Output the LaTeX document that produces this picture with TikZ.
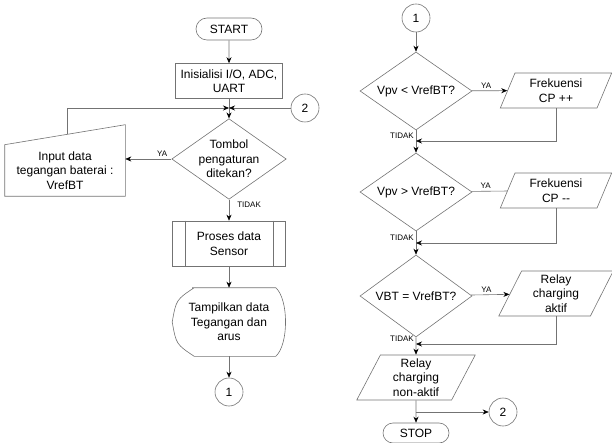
\documentclass[tikz,border=0pt]{standalone}
\usepackage{fontspec}
\setmainfont{Liberation Sans}
\usetikzlibrary{shapes.geometric,shapes.misc,calc,arrows.meta}

\begin{document}
\begin{tikzpicture}[x=1pt,y=-1pt,>={Stealth[length=6pt,width=5pt,color=black]},line width=0.6pt,
  font=\fontsize{12}{14.5}\selectfont,
  every node/.style={align=center,inner sep=0pt},
  garis/.style={draw=black!55},
  terminal/.style={rounded rectangle,garis,minimum width=66pt,minimum height=22pt},
  kotak/.style={rectangle,garis,minimum width=107pt,minimum height=35pt},
  kondisi/.style={diamond,garis,aspect=1.42,minimum width=114pt,minimum height=80pt},
  datain/.style={trapezium,trapezium left angle=68,trapezium right angle=112,
    trapezium stretches=true,garis,minimum width=112pt,minimum height=35pt},
  konektor/.style={circle,garis,minimum size=28pt},
  ket/.style={font=\fontsize{8}{9}\selectfont,inner sep=2pt}]
  \useasboundingbox (0,0) rectangle (612,443);

  % kolom kiri
  \node[terminal] (start) at (229,29) {START};
  \node[kotak] (init) at (229,81) {Inisialisi I/O, ADC,\\UART};
  \coordinate (jn) at (229,108);
  \node[konektor] (ke2a) at (305,108) {2};
  \node[kondisi] (tombol) at (229,159) {Tombol\\pengaturan\\ditekan?};
  \node[minimum width=120pt,minimum height=51pt] (inp) at (65,170.5)
    {Input data\\tegangan baterai :\\VrefBT};
  \node[kotak,minimum width=113pt,minimum height=45pt] (proses) at (229,243.5)
    {Proses data\\Sensor};
  \node[minimum width=113pt,minimum height=68pt] (tampil) at (229,322)
    {Tampilkan data\\Tegangan dan\\arus};
  \node[konektor] (ke1a) at (229,392) {1};

  % bentuk khusus
  \draw[garis] (inp.north west) -- ($(inp.north east)+(0,20pt)$)
    -- (inp.south east) -- (inp.south west) -- cycle;
  \coordinate (inpT) at ($(inp.north west)!0.517!($(inp.north east)+(0,20pt)$)$);
  \draw[garis] ($(proses.north west)+(13pt,0)$) -- ($(proses.south west)+(13pt,0)$);
  \draw[garis] ($(proses.north east)+(-13pt,0)$) -- ($(proses.south east)+(-13pt,0)$);
  \draw[garis] ($(tampil.north west)+(20pt,0)$) -- ($(tampil.north east)+(-10pt,0)$)
    .. controls ($(tampil.north east)+(3pt,-12pt)$) and ($(tampil.south east)+(3pt,12pt)$)
    .. ($(tampil.south east)+(-10pt,0)$) -- ($(tampil.south west)+(22pt,0)$)
    .. controls ($(tampil.south west)+(4pt,12pt)$) .. (tampil.west)
    .. controls ($(tampil.north west)+(4pt,-12pt)$) .. ($(tampil.north west)+(22pt,0)$) -- cycle;

  % kolom kanan
  \node[konektor] (ke1b) at (416,18) {1};
  \node[kondisi,minimum width=112pt,minimum height=78pt] (d1) at (416,91) {Vpv < VrefBT?};
  \node[datain] (p1) at (556,90.5) {Frekuensi\\CP ++};
  \node[kondisi,minimum width=112pt,minimum height=78pt] (d2) at (416,192) {Vpv > VrefBT?};
  \node[datain] (p2) at (556,190.5) {Frekuensi\\CP -{}-};
  \node[kondisi,minimum width=112pt,minimum height=82pt] (d3) at (416,296) {VBT = VrefBT?};
  \node[datain,minimum width=115pt,minimum height=45pt] (p3) at (556,293.5)
    {Relay\\charging\\aktif};
  \node[datain,minimum width=119pt,minimum height=45pt] (p4) at (416,377.5)
    {Relay\\charging\\non-aktif};
  \node[terminal,minimum height=20pt] (stop) at (416,433) {STOP};
  \node[konektor] (ke2b) at (503,412) {2};
  \coordinate (m1) at (416,141);
  \coordinate (m2) at (416,243);
  \coordinate (m3) at (416,344);
  \coordinate (cb) at (416,412);

  % panah kiri
  \draw[garis,->] (start) -- (init);
  \draw[garis,->] (init) -- (tombol);
  \draw[garis,->] (ke2a) -- (jn);
  \draw[garis,->] (inpT) |- (jn);
  \draw[garis,->] (tombol.west) -- node[ket,pos=0.2,above] {YA} (tombol.west -| inp.east);
  \draw[garis,->] (tombol) -- node[ket,pos=0.25,right,xshift=6pt] {TIDAK} (proses);
  \draw[garis,->] (proses) -- (tampil);
  \draw[garis,->] (tampil) -- (ke1a);

  % panah kanan
  \draw[garis,->] (ke1b) -- (d1);
  \draw[garis,->] (d1) -- node[ket,pos=0.4,above] {YA} (p1);
  \draw[garis,->] (d1) -- (d2);
  \draw[garis,->] (p1) |- (m1);
  \draw[garis] (d2) -- node[ket,pos=0.4,above] {YA} (p2);
  \draw[garis,->] (d2) -- (d3);
  \draw[garis,->] (p2) |- (m2);
  \draw[garis,->] (d3) -- node[ket,pos=0.4,above] {YA} (p3);
  \draw[garis,->] (d3) -- (p4);
  \draw[garis,->] (p3) |- (m3);
  \draw[garis,->] (p4) -- (stop);
  \draw[garis,->] (cb) -- (ke2b);

  % label TIDAK kanan
  \node[ket,anchor=south east] at (m1) {TIDAK};
  \node[ket,anchor=south east] at (m2) {TIDAK};
  \node[ket,anchor=south east] at (m3) {TIDAK};
\end{tikzpicture}
\end{document}
